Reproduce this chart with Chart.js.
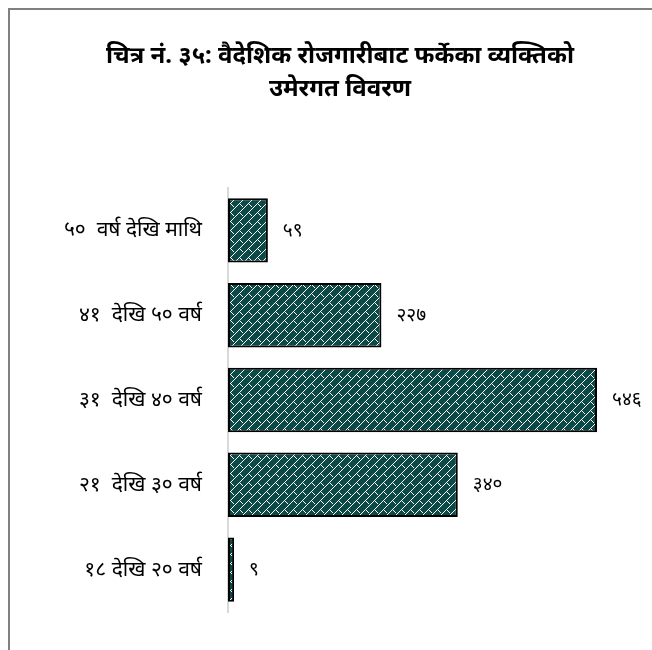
<!DOCTYPE html>
<html>
<head>
<meta charset="utf-8">
<script src="https://cdn.jsdelivr.net/npm/chart.js@4.4.1/dist/chart.umd.min.js"></script>
<style>
  html, body { margin: 0; padding: 0; background: #fff; overflow: hidden; }
  #frame { position: absolute; left: 8px; top: 8px; width: 660px; height: 660px; border: 2px solid #808080; }
  #chart { display: block; }
</style>
</head>
<body>
<div id="frame"><canvas id="chart" width="660" height="660"></canvas></div>
<script>
const titleLines = ['चित्र नं. ३५: वैदेशिक रोजगारीबाट फर्केका व्यक्तिको', 'उमेरगत विवरण']
const ageGroups = ['५०  वर्ष देखि माथि', '४१  देखि ५० वर्ष', '३१  देखि ४० वर्ष', '२१  देखि ३० वर्ष', '१८ देखि २० वर्ष']
const persons = [59, 227, 546, 340, 9]

const devDigits = ['०','१','२','३','४','५','६','७','८','९']
const toNepali = n => String(n).split('').map(d => devDigits[+d] ?? d).join('')

// brick/zigzag fill like the original
function makePattern() {
    const c = document.createElement('canvas')
    c.width = 9
    c.height = 9
    const g = c.getContext('2d')
    g.fillStyle = '#0c4a48'
    g.fillRect(0, 0, 9, 9)
    g.fillStyle = '#ffffff'
    for (let x = 0; x < 9; x++) g.fillRect(x, 8 - x, 1, 1)
    g.fillRect(5, 5, 1, 1)
    g.fillRect(6, 6, 1, 1)
    g.fillRect(7, 7, 1, 1)
    return g.createPattern(c, 'repeat')
}

const valueLabels = {
    id: 'valueLabels',
    afterDatasetsDraw(chart) {
        const ctx = chart.ctx
        const meta = chart.getDatasetMeta(0)
        ctx.save()
        ctx.font = '19px "Noto Sans", sans-serif'
        ctx.fillStyle = '#000'
        ctx.textAlign = 'left'
        ctx.textBaseline = 'middle'
        meta.data.forEach((bar, i) => {
            ctx.fillText(toNepali(persons[i]), bar.x + 15, bar.y)
        })
        ctx.restore()
    }
}

new Chart(document.getElementById('chart'), {
    type: 'bar',
    data: {
        labels: ageGroups,
        datasets: [{
            data: persons,
            backgroundColor: makePattern(),
            borderColor: '#000',
            borderWidth: 2,
            borderSkipped: false,
            barPercentage: 0.76,
            categoryPercentage: 1
        }]
    },
    options: {
        indexAxis: 'y',
        responsive: false,
        animation: false,
        layout: { padding: { left: 0, right: 0, top: 0, bottom: 58 } },
        plugins: {
            legend: { display: false },
            tooltip: { enabled: false },
            title: {
                display: true,
                text: titleLines,
                color: '#000',
                font: { family: '"Noto Sans", sans-serif', size: 24, weight: 'bold', lineHeight: 1.375 },
                padding: { top: 30, bottom: 82 }
            }
        },
        scales: {
            x: { display: false, min: 0, max: 654 },
            y: {
                afterFit: scale => { scale.width = 218 },
                grid: { display: false },
                border: { display: true, color: '#d9d9d9', width: 2 },
                ticks: { color: '#000', padding: 18, font: { family: '"Noto Sans", sans-serif', size: 21 } }
            }
        }
    },
    plugins: [valueLabels]
})
</script>
</body>
</html>
